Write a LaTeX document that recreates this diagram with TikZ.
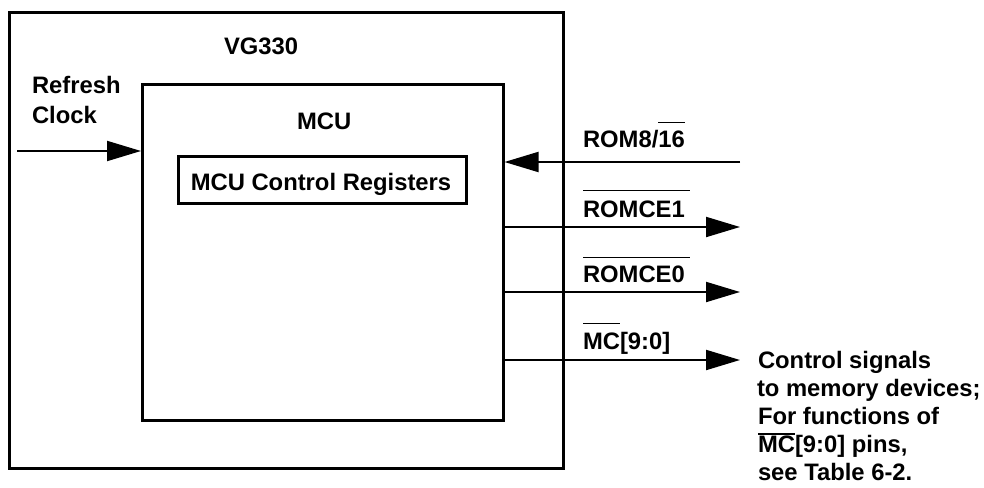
\documentclass[tikz,border=0pt]{standalone}
\usepackage{fontspec}
\setmainfont{Liberation Sans}
\usetikzlibrary{arrows.meta}
\newsavebox\hbbox
\newcommand\highbar[3]{\sbox\hbbox{#3}\rlap{\rule[#1]{\dimexpr\wd\hbbox+#2\relax}{1.4pt}}\usebox\hbbox}
\begin{document}
\begin{tikzpicture}[x=1pt,y=-1pt,
  box/.style={draw, line width=3pt, inner sep=0pt},
  txt/.style={font=\bfseries\fontsize{23.8}{28}\selectfont, inner sep=0pt, outer sep=0pt},
  sig/.style={line width=2pt, -{Triangle[length=34pt,width=20pt]}}]
\useasboundingbox (0,0) rectangle (984,487);
% boxes
\node[box, minimum width=553.5pt, minimum height=455pt] (vg) at (286.25,240.5) {};
\node[box, minimum width=360.5pt, minimum height=336pt] (mcu) at (322.75,252) {};
\node[box, minimum width=288.5pt, minimum height=46.5pt] (regs) at (322.25,179.75) {};
\node[txt, anchor=base] (regst) at (321,190) {MCU Control Registers};
\node[txt, anchor=base west] (vgt) at (224,55) {VG330};
\node[txt, anchor=base west] (mcut) at (297,129) {MCU};
\node[txt, anchor=base west] (ref1) at (32,93) {Refresh};
\node[txt, anchor=base west] (ref2) at (32,123) {Clock};
% signals
\coordinate (clk) at (17,151);
\coordinate (rom) at (740,162);
\coordinate (ce1) at (740,227);
\coordinate (ce0) at (740,292);
\coordinate (mc) at (740,360);
\draw[sig] (clk) -- (clk -| mcu.west);
\draw[sig] (rom) -- (rom -| mcu.east);
\draw[sig] (ce1 -| mcu.east) -- (ce1);
\draw[sig] (ce0 -| mcu.east) -- (ce0);
\draw[sig] (mc -| mcu.east) -- (mc);
% signal labels
\node[txt, anchor=base west] (romt) at (583,147) {ROM8/\highbar{24pt}{0pt}{16}};
\node[txt, anchor=base west] (ce1t) at (583,217) {\highbar{26pt}{5pt}{ROMCE1}};
\node[txt, anchor=base west] (ce0t) at (583,282) {\highbar{24pt}{5pt}{ROMCE0}};
\node[txt, anchor=base west] (mct) at (583,349) {\highbar{25pt}{0pt}{MC}[9:0]};
% note
\node[txt, anchor=base west] (n1) at (758,368) {Control signals};
\node[txt, anchor=base west] (n2) at (757,396) {to memory devices;};
\node[txt, anchor=base west] (n3) at (758,424) {For functions of};
\node[txt, anchor=base west] (n4) at (758,452) {\highbar{17.5pt}{0pt}{MC}[9:0] pins,};
\node[txt, anchor=base west] (n5) at (758,480) {see Table 6-2.};
\end{tikzpicture}
\end{document}
